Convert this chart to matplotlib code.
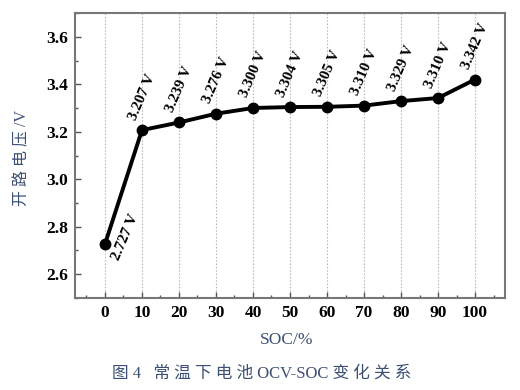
import matplotlib
matplotlib.use("Agg")
import matplotlib.pyplot as plt
from matplotlib.ticker import MultipleLocator

soc = [0, 10, 20, 30, 40, 50, 60, 70, 80, 90, 100]
ocv = [2.727, 3.207, 3.239, 3.276, 3.300, 3.304, 3.305, 3.310, 3.329, 3.342, 3.420]
point_labels = ["2.727 V", "3.207 V", "3.239 V", "3.276 V", "3.300 V", "3.304 V",
                "3.305 V", "3.310 V", "3.329 V", "3.310 V", "3.342 V"]
xticks = [0, 10, 20, 30, 40, 50, 60, 70, 80, 90, 100]
yticks = [2.6, 2.8, 3.0, 3.2, 3.4, 3.6]

serif = ["Liberation Serif", "DejaVu Serif"]
cjk = ["Liberation Serif", "Noto Sans CJK SC", "DejaVu Sans"]
blue = "#3d4f73"

fig = plt.figure(figsize=(5.2, 3.9), dpi=100)
ax = fig.add_axes([75/520, 1 - 298/390, (505-75)/520, (298-13)/390])

ax.plot(soc, ocv, color="black", lw=2.8, marker="o", ms=7.5, zorder=3)
ax.set_xlim(-8.1, 108.1)
ax.set_ylim(2.5, 3.7)
ax.set_xticks(xticks)
ax.set_yticks(yticks)
ax.set_xticklabels([str(v) for v in xticks], fontfamily=serif, fontweight="bold", fontsize=12.5)
ax.set_yticklabels([f"{v:.1f}" for v in yticks], fontfamily=serif, fontweight="bold", fontsize=12.5)
ax.xaxis.set_minor_locator(MultipleLocator(5))
ax.yaxis.set_minor_locator(MultipleLocator(0.1))
ax.tick_params(which="both", direction="in", top=False, right=False, color="#555555")
ax.tick_params(which="major", length=4, width=1, pad=5)
ax.tick_params(which="minor", length=2.5, width=1)
for s in ax.spines.values():
    s.set_color("#777777")
    s.set_linewidth(1.5)
ax.grid(axis="x", which="major", linestyle=(0, (1.5, 1.5)), color="#bbbbbb", lw=0.8)

for i, (x, y, t) in enumerate(zip(soc, ocv, point_labels)):
    if i == 0:
        off = (12, -13)
    else:
        off = (-2, 6)
    ax.annotate(t, (x, y), xytext=off, textcoords="offset points",
                rotation=67, ha="left", va="bottom", rotation_mode="anchor",
                fontfamily=serif, fontweight="bold", fontsize=11)

fig.text(22/520, 1 - 158/390, "开 路 电 压 /V", rotation=90, ha="center", va="center",
         fontfamily=cjk, fontsize=11.5, color=blue)
fig.text(287/520, 1 - 340/390, "SOC/%", ha="center", va="center",
         fontfamily=serif, fontsize=12.5, color=blue)
fig.text(262/520, 1 - 374/390, "图 4   常 温 下 电 池 OCV-SOC 变 化 关 系", ha="center", va="center",
         fontfamily=cjk, fontsize=12, color=blue)

fig.savefig("out.png", dpi=100)
